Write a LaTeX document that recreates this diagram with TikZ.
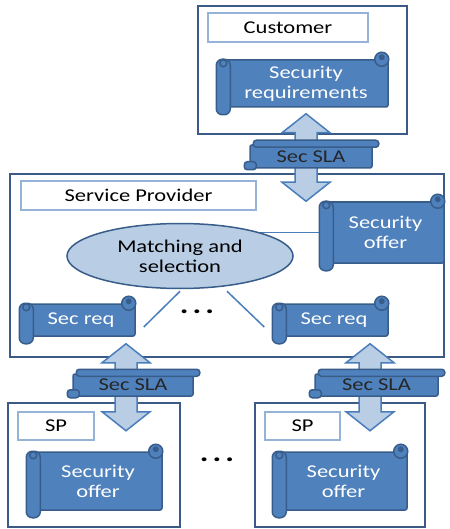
\documentclass[tikz,border=0pt]{standalone}
\usepackage{fontspec}
\setmainfont{Carlito}[FakeStretch=1.25]
\usetikzlibrary{shapes.geometric,calc,backgrounds}

\definecolor{scrollblue}{HTML}{4F81BD}
\definecolor{scrolledge}{HTML}{385D8A}
\definecolor{arrowfill}{HTML}{B9CDE5}
\definecolor{arrowedge}{HTML}{4A7EBB}
\definecolor{boxedge}{HTML}{3B5A85}
\definecolor{labeledge}{HTML}{95B3D7}

\tikzset{
  outerbox/.style={draw=boxedge, line width=2pt, inner sep=0pt},
  labelbox/.style={draw=labeledge, line width=1.4pt, inner sep=0pt, fill=white},
  scrollbody/.style={fill=scrollblue, draw=scrolledge, line width=1.5pt,
    text=white, align=center, inner sep=0pt, rounded corners=2pt},
  scrollpart/.style={fill=scrollblue, draw=scrolledge, line width=1.5pt},
  bannerbody/.style={scrollbody, text=black!85},
  slaarrow/.style={fill=arrowfill, draw=arrowedge, line width=1.5pt},
  matchnode/.style={ellipse, fill=arrowfill, draw=scrolledge, line width=1.5pt,
    align=center, inner sep=0pt},
  link/.style={draw=arrowedge, line width=1.5pt},
  dotsnode/.style={font=\fontsize{26}{26}\selectfont\bfseries}
}

% rolled edges around a scroll body node
\newcommand\scrollparts[1]{%
  \draw[scrollpart, rounded corners=6pt] ($(#1.north west)+(-7,0)$) rectangle ($(#1.south west)+(7,7)$);
  \draw[scrollpart] ($(#1.north west)+(0,4)$) circle (3.5pt);
  \draw[scrollpart] ($(#1.north east)+(-7,0)$) circle (7pt);
  \fill[scrolledge] ($(#1.north east)+(-7,-2)$) circle (3pt);
}
% rolled edges around a banner body node
\newcommand\bannerparts[1]{%
  \draw[scrollpart, rounded corners=3pt] ($(#1.north west)+(4,-4)$) rectangle ($(#1.north east)+(6,3)$);
  \draw[scrollpart, rounded corners=3pt] ($(#1.south west)+(-5,-7)$) rectangle ($(#1.south west)+(7,1)$);
}
% fat two-headed arrow between two points
\newcommand\updown[2]{%
  \draw[slaarrow] (#1) -- ($(#1)+(24,19)$) -- ($(#1)+(11,19)$) -- ($(#2)+(11,-19)$)
    -- ($(#2)+(24,-19)$) -- (#2) -- ($(#2)+(-24,-19)$) -- ($(#2)+(-11,-19)$)
    -- ($(#1)+(-11,19)$) -- ($(#1)+(-24,19)$) -- cycle;
}
\newcommand\threedots{.\kern4pt.\kern4pt.}

\begin{document}
\begin{tikzpicture}[x=1pt, y=-1pt, font=\fontsize{18}{20}\selectfont]
\useasboundingbox (0,0) rectangle (449,529);

% customer
\node[outerbox, minimum width=209pt, minimum height=128pt] (cust) at (302.5,70) {};
\node[labelbox, minimum width=160pt, minimum height=29pt] (custlbl) at (288,27.5) {Customer};
\node[scrollbody, minimum width=164pt, minimum height=47pt] (req) at (306,83.5) {Security\\requirements};
\scrollparts{req}

% service provider
\node[outerbox, minimum width=434pt, minimum height=183pt] (prov) at (227,265.5) {};
\node[labelbox, minimum width=235pt, minimum height=29pt] (provlbl) at (138.5,195.5) {Service Provider};
\node[matchnode, minimum width=226pt, minimum height=65pt] (match) at (180,256) {Matching and\\selection};
\node[scrollbody, minimum width=117pt, minimum height=61pt] (offer) at (385.5,232.5) {Security\\offer};
\scrollparts{offer}
\node[scrollbody, minimum width=108pt, minimum height=32pt] (reqL) at (81,320) {Sec req};
\scrollparts{reqL}
\node[scrollbody, minimum width=108pt, minimum height=32pt] (reqR) at (334,320) {Sec req};
\scrollparts{reqR}
\node[dotsnode] (dotsM) at (197,312) {\threedots};

\begin{scope}[on background layer]
  \draw[link] (match.center |- offer.west) -- ($(offer.west)+(-7,0)$);
\end{scope}
\coordinate (endL) at ($(reqL.east)+(8,7)$);
\coordinate (endR) at ($(reqR.west)+(-15,7)$);
\draw[link] ($(match.south)+(0,2)$) -- (endL);
\draw[link] ($(match.south)+(47,2)$) -- (endR);

% sub-providers
\node[outerbox, minimum width=172pt, minimum height=124pt] (spL) at (94,465) {};
\node[labelbox, minimum width=76pt, minimum height=28pt] (spLlbl) at (56,426) {SP};
\node[scrollbody, minimum width=128pt, minimum height=58pt] (offerL) at (98,481) {Security\\offer};
\scrollparts{offerL}
\node[outerbox, minimum width=170pt, minimum height=124pt] (spR) at (340,465) {};
\node[labelbox, minimum width=75pt, minimum height=28pt] (spRlbl) at (302.5,426) {SP};
\node[scrollbody, minimum width=127pt, minimum height=58pt] (offerR) at (343.5,481) {Security\\offer};
\scrollparts{offerR}
\node[dotsnode] (dotsB) at (217,460) {\threedots};

% SLA arrows
\coordinate (a1t) at ($(req.south)+(0,6)$);
\coordinate (a1b) at (a1t |- offer.north);
\coordinate (a2t) at ($(reqL.south)+(45,7)$);
\coordinate (a2b) at ($(a2t)+(0,87)$);
\coordinate (a3t) at ($(reqR.south)+(36,7)$);
\coordinate (a3b) at ($(a3t)+(0,87)$);
\updown{a1t}{a1b}
\updown{a2t}{a2b}
\updown{a3t}{a3b}

\node[bannerbody, minimum width=122pt, minimum height=23pt] (sla1) at (311,156.5) {Sec SLA};
\bannerparts{sla1}
\node[bannerbody, minimum width=120pt, minimum height=22pt] (sla2) at (133,385) {Sec SLA};
\bannerparts{sla2}
\node[bannerbody, minimum width=123pt, minimum height=22pt] (sla3) at (376.5,385) {Sec SLA};
\bannerparts{sla3}
\end{tikzpicture}
\end{document}
